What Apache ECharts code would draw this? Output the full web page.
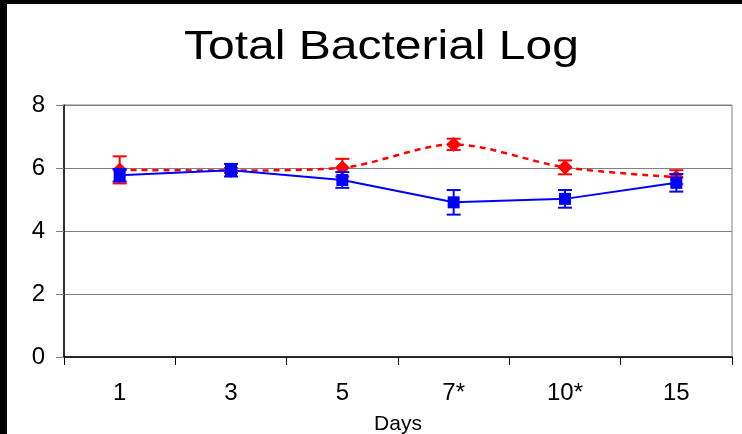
<!DOCTYPE html>
<html>
<head>
<meta charset="utf-8">
<script src="https://cdn.jsdelivr.net/npm/echarts@6/dist/echarts.min.js"></script>
<style>
  html, body { margin: 0; padding: 0; background: #000; }
  #chart { position: absolute; left: 7px; top: 4px; width: 735px; height: 430px; background: #fff; }
</style>
</head>
<body>
<div id="chart"></div>
<script>
// categories and values
const days = ['1', '3', '5', '7*', '10*', '15'];
const redMean = [5.94, 5.92, 6.01, 6.75, 6.02, 5.71];
const redErr = [0.43, 0.08, 0.28, 0.18, 0.22, 0.22];
const blueMean = [5.77, 5.93, 5.62, 4.91, 5.02, 5.53];
const blueErr = [0.2, 0.2, 0.25, 0.39, 0.28, 0.28];
const yMin = 0, yMax = 8, yStep = 2;

const chart = echarts.init(document.getElementById('chart'));
const font = 'Liberation Sans, Arial, sans-serif';

// error bar series built from mean +/- err
function errorBars(means, errs, color, z) {
  return {
    type: 'custom',
    z: z,
    data: means.map((m, i) => [i, m - errs[i], m + errs[i]]),
    renderItem: (params, api) => {
      const lo = api.coord([api.value(0), api.value(1)]);
      const hi = api.coord([api.value(0), api.value(2)]);
      const w = 7;
      const style = { stroke: color, lineWidth: 2 };
      return {
        type: 'group',
        children: [
          { type: 'line', shape: { x1: lo[0], y1: lo[1], x2: hi[0], y2: hi[1] }, style: style },
          { type: 'line', shape: { x1: lo[0] - w, y1: lo[1], x2: lo[0] + w, y2: lo[1] }, style: style },
          { type: 'line', shape: { x1: hi[0] - w, y1: hi[1], x2: hi[0] + w, y2: hi[1] }, style: style }
        ]
      };
    }
  };
}

const options = {
  animation: false,
  // title drawn as graphic text so it can be stretched a little, like the original
  graphic: [{
    type: 'text',
    x: 374.5,
    y: 44,
    scaleX: 1.2,
    style: {
      text: 'Total Bacterial Log',
      align: 'center',
      verticalAlign: 'middle',
      fontFamily: font,
      fontSize: 40,
      fill: '#000'
    }
  }],
  grid: {
    left: 57, right: 10, top: 101, bottom: 77,
    outerBoundsMode: 'none',
    show: true, borderColor: '#808080', borderWidth: 1
  },
  xAxis: {
    type: 'category',
    data: days,
    boundaryGap: true,
    name: 'Days',
    nameLocation: 'middle',
    nameGap: 57,
    nameTextStyle: { fontFamily: font, fontSize: 21, color: '#000' },
    axisLine: { lineStyle: { color: '#000', width: 1.5 } },
    axisTick: { show: true, length: 8, lineStyle: { color: '#000' } },
    axisLabel: { fontFamily: font, fontSize: 24, color: '#000', margin: 24 },
    splitLine: { show: false }
  },
  yAxis: {
    type: 'value',
    min: yMin, max: yMax, interval: yStep,
    axisLine: { show: true, lineStyle: { color: '#000', width: 1.5 } },
    axisTick: { show: true, length: 8, lineStyle: { color: '#808080' } },
    axisLabel: { fontFamily: font, fontSize: 24, color: '#000', margin: 19 },
    splitLine: { show: true, lineStyle: { color: '#808080', width: 1 } }
  },
  series: [
    errorBars(redMean, redErr, '#ff0000', 2),
    {
      type: 'line',
      data: redMean,
      z: 3,
      smooth: 0.3,
      symbol: 'diamond',
      symbolSize: 15,
      itemStyle: { color: '#ff0000' },
      lineStyle: { color: '#ff0000', width: 2.5, type: [6, 5] }
    },
    errorBars(blueMean, blueErr, '#0000ff', 4),
    {
      type: 'line',
      data: blueMean,
      z: 5,
      symbol: 'rect',
      symbolSize: 12,
      itemStyle: { color: '#0000ff' },
      lineStyle: { color: '#0000ff', width: 2 }
    }
  ]
};

chart.setOption(options);
</script>
</body>
</html>
